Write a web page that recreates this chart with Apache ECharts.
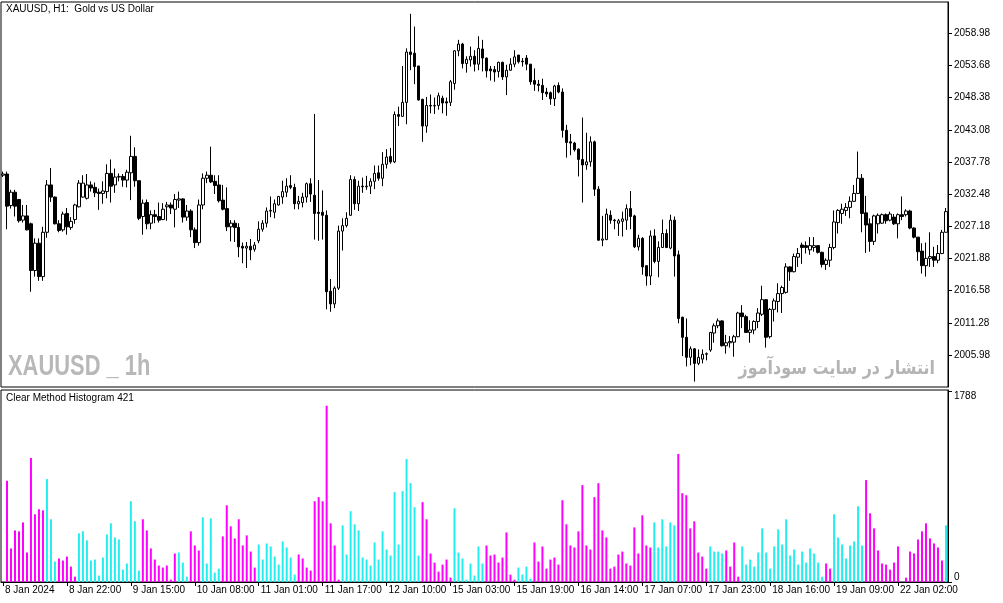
<!DOCTYPE html>
<html>
<head>
<meta charset="utf-8">
<script src="https://cdn.jsdelivr.net/npm/echarts@6/dist/echarts.min.js"></script>
<style>
html, body { margin: 0; padding: 0; background: #fff; }
#chart { width: 1003px; height: 603px; }
</style>
</head>
<body>
<div id="chart"></div>
<script>
// H1 candles, one row per bar: [open, close, low, high]
const candles = [
  [2035.6, 2035.8, 2035.3, 2036.2],
  [2035.8, 2030.5, 2026.7, 2036.2], [2030.6, 2032.8, 2030.1, 2033.2], [2032.8, 2030.5, 2028.8, 2033.2], [2031.6, 2028.1, 2027.8, 2031.7],
  [2028.2, 2028.9, 2027.8, 2030.7], [2028.9, 2026.6, 2026.5, 2030.7], [2027.6, 2019.9, 2016.4, 2027.8], [2019.9, 2024.4, 2018.9, 2025.2],
  [2024.4, 2018.9, 2018.2, 2025.2], [2018.9, 2026.2, 2018.2, 2027.1], [2026.2, 2034.0, 2025.3, 2034.8], [2034.0, 2032.0, 2031.2, 2036.8],
  [2032.0, 2027.6, 2027.5, 2032.1], [2027.6, 2026.5, 2026.2, 2028.2], [2026.6, 2029.2, 2026.3, 2029.6], [2029.3, 2027.1, 2025.8, 2030.2],
  [2027.0, 2028.0, 2026.6, 2028.7], [2028.3, 2030.7, 2027.6, 2030.9], [2030.4, 2034.3, 2030.3, 2034.8], [2032.0, 2034.3, 2031.9, 2035.6],
  [2031.8, 2034.0, 2031.6, 2035.8], [2034.0, 2033.5, 2032.9, 2034.6], [2033.6, 2032.7, 2032.0, 2034.4], [2032.8, 2032.6, 2029.9, 2033.4],
  [2032.6, 2033.0, 2030.9, 2034.6], [2032.9, 2035.9, 2031.8, 2037.4], [2035.9, 2033.8, 2031.1, 2038.2], [2034.0, 2035.3, 2032.7, 2036.7],
  [2035.3, 2035.4, 2034.6, 2035.9], [2035.4, 2034.8, 2033.7, 2035.8], [2034.8, 2036.1, 2033.6, 2036.5], [2036.0, 2038.7, 2031.5, 2042.1],
  [2038.7, 2034.7, 2033.7, 2040.2], [2034.7, 2028.5, 2028.2, 2034.7], [2028.8, 2031.0, 2025.8, 2031.6], [2031.1, 2027.6, 2026.7, 2031.6],
  [2027.7, 2029.1, 2026.7, 2029.8], [2029.1, 2028.8, 2027.7, 2029.9], [2028.8, 2028.2, 2027.8, 2031.1], [2028.3, 2030.0, 2028.2, 2031.0],
  [2030.4, 2030.7, 2028.1, 2031.2], [2030.7, 2030.2, 2029.2, 2031.1], [2030.0, 2031.6, 2027.0, 2032.5], [2031.5, 2031.7, 2030.2, 2032.9],
  [2031.7, 2028.7, 2027.8, 2031.8], [2028.7, 2029.7, 2028.1, 2030.7], [2029.7, 2026.6, 2025.4, 2030.0], [2026.6, 2024.5, 2023.6, 2027.0],
  [2024.5, 2030.7, 2024.0, 2031.6], [2030.7, 2035.1, 2030.0, 2035.9], [2035.1, 2035.6, 2034.3, 2036.2], [2035.6, 2034.5, 2034.3, 2040.3],
  [2034.6, 2033.9, 2032.5, 2035.6], [2034.0, 2031.4, 2031.1, 2035.6], [2031.5, 2030.0, 2029.8, 2034.0], [2030.1, 2027.1, 2026.4, 2033.6],
  [2027.1, 2027.7, 2024.7, 2028.2], [2027.7, 2027.0, 2024.6, 2028.2], [2027.0, 2023.8, 2022.1, 2027.7], [2023.9, 2023.6, 2021.1, 2024.5],
  [2023.6, 2023.9, 2020.3, 2024.6], [2023.9, 2023.3, 2021.6, 2025.1], [2023.4, 2024.1, 2023.0, 2024.6], [2024.8, 2026.7, 2024.4, 2028.0],
  [2026.7, 2027.7, 2026.3, 2028.2], [2027.7, 2029.7, 2027.0, 2030.3], [2029.7, 2029.8, 2028.7, 2032.1], [2029.5, 2030.9, 2028.5, 2031.6],
  [2030.7, 2032.1, 2030.6, 2032.2], [2032.0, 2032.9, 2030.9, 2034.7], [2032.8, 2033.8, 2032.0, 2035.1], [2033.9, 2033.6, 2033.3, 2035.6],
  [2033.6, 2030.9, 2030.0, 2034.2], [2030.9, 2031.3, 2030.0, 2032.2], [2031.1, 2032.0, 2030.3, 2032.7], [2032.0, 2034.2, 2031.1, 2034.4],
  [2034.2, 2032.5, 2031.2, 2035.1], [2032.3, 2029.3, 2025.0, 2045.7], [2029.5, 2029.3, 2024.8, 2034.8], [2029.5, 2029.0, 2025.0, 2033.1],
  [2029.0, 2016.4, 2013.5, 2029.8], [2016.5, 2014.4, 2013.1, 2018.5], [2014.4, 2017.0, 2013.7, 2017.3], [2017.0, 2026.4, 2016.7, 2027.3],
  [2026.4, 2027.3, 2023.2, 2028.5], [2027.3, 2028.5, 2027.0, 2029.5], [2029.0, 2034.9, 2028.9, 2035.6], [2034.9, 2030.9, 2029.9, 2035.4],
  [2030.9, 2033.8, 2029.7, 2034.7], [2033.8, 2033.7, 2032.7, 2035.2], [2033.7, 2033.8, 2033.2, 2035.5], [2033.8, 2034.6, 2032.5, 2035.1],
  [2034.6, 2035.9, 2033.3, 2037.2], [2036.0, 2035.1, 2034.7, 2037.2], [2035.1, 2037.4, 2033.8, 2039.4], [2037.4, 2038.6, 2036.7, 2039.9],
  [2038.7, 2037.8, 2037.5, 2040.1], [2037.8, 2045.6, 2037.6, 2046.1], [2045.6, 2045.3, 2043.7, 2046.9], [2045.3, 2047.6, 2045.2, 2053.6],
  [2047.6, 2055.9, 2044.0, 2056.5], [2055.9, 2055.5, 2052.9, 2062.2], [2055.7, 2053.5, 2050.6, 2060.1], [2053.6, 2048.0, 2047.9, 2053.6],
  [2048.1, 2043.7, 2041.1, 2048.2], [2043.7, 2047.1, 2042.6, 2048.5], [2047.1, 2047.0, 2045.8, 2048.9], [2047.0, 2047.1, 2045.7, 2048.4],
  [2047.1, 2048.7, 2046.4, 2049.2], [2048.3, 2047.5, 2045.8, 2048.7], [2047.7, 2047.5, 2045.4, 2048.4], [2047.6, 2051.0, 2047.0, 2051.3],
  [2050.7, 2056.1, 2049.7, 2056.2], [2056.1, 2057.2, 2055.2, 2057.9], [2057.2, 2054.0, 2053.2, 2057.4], [2054.0, 2054.7, 2052.5, 2055.2],
  [2054.6, 2055.2, 2053.5, 2056.8], [2055.2, 2053.9, 2052.7, 2056.2], [2053.9, 2056.5, 2052.9, 2058.5], [2056.4, 2054.9, 2052.7, 2057.9],
  [2054.9, 2052.8, 2051.7, 2055.0], [2053.1, 2052.8, 2051.2, 2053.6], [2053.0, 2052.6, 2051.0, 2053.6], [2052.7, 2054.2, 2051.7, 2054.3],
  [2054.2, 2051.8, 2051.3, 2054.3], [2051.8, 2052.9, 2048.8, 2053.8], [2052.9, 2053.9, 2052.8, 2054.9], [2053.9, 2055.1, 2053.4, 2056.2],
  [2055.4, 2054.3, 2054.0, 2055.4], [2054.4, 2054.3, 2053.5, 2054.9], [2054.9, 2053.9, 2052.9, 2055.4], [2053.9, 2051.0, 2050.5, 2053.9],
  [2051.2, 2050.6, 2049.5, 2053.2], [2050.6, 2050.4, 2049.4, 2051.3], [2050.4, 2049.2, 2048.0, 2051.5], [2049.3, 2049.0, 2048.5, 2050.0],
  [2049.2, 2048.2, 2047.2, 2049.4], [2048.2, 2050.3, 2047.0, 2050.5], [2050.4, 2049.3, 2049.1, 2050.9], [2049.3, 2043.0, 2041.8, 2049.9],
  [2043.0, 2041.0, 2038.5, 2043.9], [2041.1, 2040.9, 2038.9, 2042.4], [2040.9, 2039.8, 2039.5, 2041.1], [2039.9, 2038.2, 2035.4, 2040.0],
  [2038.2, 2037.3, 2031.1, 2045.1], [2037.3, 2037.8, 2036.5, 2042.6], [2037.8, 2041.1, 2037.0, 2042.0], [2041.1, 2033.3, 2032.2, 2041.3],
  [2033.3, 2024.9, 2024.8, 2033.8], [2024.9, 2025.1, 2023.9, 2028.9], [2025.0, 2029.2, 2024.9, 2030.1], [2029.0, 2028.2, 2027.6, 2029.8],
  [2028.2, 2028.1, 2026.7, 2028.4], [2027.7, 2028.1, 2025.6, 2028.4], [2028.0, 2028.4, 2025.5, 2029.6], [2028.2, 2030.1, 2026.6, 2030.8],
  [2030.1, 2028.8, 2026.7, 2033.0], [2028.9, 2023.8, 2023.6, 2029.1], [2023.8, 2025.2, 2023.2, 2025.8], [2025.2, 2020.5, 2019.2, 2025.4],
  [2020.7, 2019.0, 2017.4, 2020.7], [2019.0, 2025.6, 2017.5, 2026.5], [2025.6, 2021.4, 2021.1, 2026.7], [2021.4, 2023.7, 2018.8, 2024.7],
  [2023.7, 2026.0, 2023.6, 2028.3], [2026.0, 2023.7, 2023.6, 2026.7], [2023.6, 2028.2, 2023.4, 2029.1], [2028.2, 2022.3, 2018.9, 2028.8],
  [2022.5, 2012.0, 2011.2, 2023.2], [2012.2, 2008.9, 2005.8, 2012.3], [2008.9, 2005.6, 2004.1, 2012.0], [2005.6, 2007.0, 2004.3, 2007.4],
  [2007.0, 2004.6, 2001.6, 2007.1], [2004.6, 2005.6, 2004.3, 2006.9], [2005.3, 2006.1, 2004.6, 2006.9], [2006.1, 2006.2, 2005.1, 2006.4],
  [2006.8, 2009.7, 2006.5, 2009.8], [2009.6, 2010.8, 2008.0, 2011.2], [2010.8, 2011.6, 2010.4, 2012.0], [2011.6, 2007.5, 2007.4, 2011.7],
  [2007.5, 2008.0, 2006.2, 2009.3], [2008.0, 2008.2, 2007.2, 2009.1], [2008.1, 2009.0, 2005.7, 2009.3], [2009.0, 2012.9, 2008.9, 2013.1],
  [2012.9, 2012.3, 2010.4, 2014.2], [2012.3, 2009.7, 2009.6, 2012.6], [2009.7, 2010.1, 2008.0, 2011.7], [2010.1, 2011.5, 2009.4, 2011.7],
  [2011.5, 2012.9, 2010.4, 2013.7], [2012.7, 2015.1, 2012.4, 2017.4], [2015.1, 2008.9, 2007.2, 2015.2], [2009.0, 2013.5, 2008.7, 2013.7],
  [2013.5, 2014.9, 2011.5, 2015.3], [2014.8, 2016.1, 2013.0, 2017.8], [2016.1, 2017.1, 2012.9, 2017.4], [2016.3, 2020.5, 2016.1, 2021.1],
  [2020.5, 2019.7, 2018.2, 2020.6], [2019.7, 2022.2, 2019.6, 2022.7], [2022.1, 2022.7, 2020.5, 2023.6], [2024.1, 2023.7, 2021.0, 2024.5],
  [2024.0, 2023.7, 2022.7, 2024.7], [2023.3, 2024.0, 2022.5, 2025.4], [2023.7, 2024.0, 2023.0, 2025.4], [2024.0, 2022.9, 2022.7, 2024.1],
  [2022.9, 2020.9, 2020.4, 2023.0], [2020.9, 2021.6, 2020.0, 2021.9], [2021.6, 2023.7, 2020.5, 2024.3], [2023.7, 2027.9, 2023.4, 2029.8],
  [2027.8, 2029.8, 2026.0, 2030.0], [2029.3, 2030.0, 2027.6, 2030.9], [2029.8, 2030.3, 2028.9, 2031.0], [2030.3, 2031.3, 2028.5, 2032.1],
  [2031.3, 2032.6, 2031.2, 2034.0], [2032.6, 2035.1, 2032.5, 2039.5], [2035.1, 2029.3, 2026.2, 2035.8], [2029.4, 2027.4, 2022.8, 2032.2],
  [2027.6, 2024.7, 2023.0, 2028.5], [2024.7, 2028.9, 2024.1, 2029.1], [2027.6, 2029.0, 2026.0, 2029.3], [2027.7, 2029.1, 2027.6, 2029.3],
  [2029.1, 2028.1, 2027.6, 2029.3], [2028.2, 2029.2, 2028.0, 2029.6], [2028.7, 2027.6, 2027.4, 2029.2], [2027.6, 2029.1, 2025.2, 2029.3],
  [2029.1, 2028.8, 2028.2, 2032.1], [2029.1, 2029.7, 2028.8, 2030.0], [2029.7, 2026.9, 2026.7, 2029.9], [2026.9, 2025.4, 2025.2, 2027.0],
  [2025.4, 2023.0, 2021.5, 2025.4], [2023.1, 2020.7, 2019.4, 2024.4], [2020.7, 2021.9, 2018.9, 2024.5], [2021.9, 2022.2, 2020.5, 2026.2],
  [2022.2, 2021.6, 2020.5, 2023.8], [2021.6, 2022.7, 2021.1, 2024.1], [2022.7, 2026.2, 2022.6, 2026.6], [2026.2, 2029.6, 2026.2, 2030.2]
]

// Clear Method Histogram values (first bar is hidden under the frame)
const histValues = [
  null,
  947, 314, 483, 474, 558, 276, 1161, 634, 681, 671,
  963, 587, 191, 220, 201, 238, 144, 50, 455, 474,
  389, 201, 210, 60, 229, 445, 549, 417, 398, 116,
  173, 756, 568, 107, 587, 483, 314, 210, 154, 135,
  154, 22, 267, 276, 182, 50, 474, 342, 295, 605,
  173, 596, 88, 125, 427, 718, 521, 408, 587, 342,
  436, 285, 135, 351, 210, 361, 333, 238, 163, 380,
  323, 229, 69, 257, 220, 135, 107, 756, 794, 756,
  1650, 549, 342, 22, 530, 257, 662, 540, 483, 229,
  210, 154, 370, 210, 474, 304, 248, 841, 351, 850,
  1151, 925, 700, 248, 747, 587, 267, 182, 97, 163,
  210, 41, 690, 276, 220, 22, 173, 60, 333, 173,
  342, 248, 257, 182, 229, 464, 69, 22, 135, 69,
  144, 31, 370, 191, 333, 125, 210, 229, 163, 765,
  540, 342, 323, 474, 907, 342, 304, 794, 925, 483,
  417, 125, 144, 257, 285, 173, 154, 511, 267, 624,
  342, 323, 558, 323, 587, 333, 558, 530, 1198, 831,
  812, 502, 568, 276, 238, 125, 333, 285, 285, 267,
  295, 144, 370, 50, 333, 163, 210, 144, 276, 502,
  276, 125, 333, 493, 351, 587, 248, 304, 163, 285,
  182, 314, 267, 182, 50, 173, 125, 634, 417, 351,
  220, 342, 380, 709, 342, 954, 643, 502, 295, 173,
  163, 116, 182, 333, 0, 41, 285, 267, 398, 474,
  549, 408, 361, 323, 201, 530
]

// histogram colour per bar: m = magenta, c = cyan
const histSide = ['m',
  'mmmmmmmmmm', 'ccc', 'mmmmm', 'cccccccccccccccc', 'mmmmmmmmm', 'ccc', 'mmm', 'ccccc',
  'mmmmmmmmm', 'cccccccccc', 'mmmmmmmmmmm', 'cccccccccccccccccccc', 'mmmmmmmm', 'cccccccc',
  'mmmmmmmm', 'cccc', 'mmmmmmmmmmmmmmmmmmmmmmmmmmmmmm', 'cccccc', 'mmmmmmmm', 'cccc', 'mmmm',
  'ccccccccccccccccccccc', 'mm', 'cccccccc', 'mmmmmmmmmmmmmmmmmmmm', 'c'
].join('')

const priceTicks = [2058.98, 2053.68, 2048.38, 2043.08, 2037.78, 2032.48, 2027.18, 2021.88, 2016.58, 2011.28, 2005.98]
const histTicks = [0, 1788]
const timeLabels = ['8 Jan 2024', '8 Jan 22:00', '9 Jan 15:00', '10 Jan 08:00', '11 Jan 01:00', '11 Jan 17:00',
  '12 Jan 10:00', '15 Jan 03:00', '15 Jan 19:00', '16 Jan 14:00', '17 Jan 07:00', '17 Jan 23:00',
  '18 Jan 16:00', '19 Jan 09:00', '22 Jan 02:00']

const barIndex = candles.map((_, i) => i)
const colors = { m: '#ff00ff', c: '#22eef0' }
const font = 'Liberation Sans'

let myChart = echarts.init(document.getElementById('chart'))

let option = {
  animation: false,
  backgroundColor: '#fff',
  grid: [
    { left: 1, right: 55, top: 2, height: 385, show: true, borderColor: '#000', borderWidth: 1 },
    { left: 1, right: 55, top: 390, height: 192, show: true, borderColor: '#000', borderWidth: 1 }
  ],
  xAxis: [
    {
      type: 'category', gridIndex: 0, data: barIndex, boundaryGap: true,
      axisLine: { show: false }, axisTick: { show: false }, axisLabel: { show: false }
    },
    {
      type: 'category', gridIndex: 1, data: barIndex, boundaryGap: true,
      axisLine: { show: true, lineStyle: { color: '#000' } },
      axisTick: { show: true, interval: 15, alignWithLabel: true, length: 4, lineStyle: { color: '#000' } },
      axisLabel: {
        interval: 15, align: 'left', margin: 3, padding: [0, 0, 0, 2],
        fontFamily: font, fontSize: 10, color: '#000',
        formatter: (v, i) => timeLabels[i / 16] || ''
      }
    }
  ],
  yAxis: [
    {
      type: 'value', gridIndex: 0, position: 'right', min: 2000.71, max: 2064.14,
      splitLine: { show: false },
      axisLine: { show: true, lineStyle: { color: '#000' } },
      axisTick: { show: true, length: 4, customValues: priceTicks, lineStyle: { color: '#000' } },
      axisLabel: {
        customValues: priceTicks, margin: 6, fontFamily: font, fontSize: 10, color: '#000',
        formatter: v => v.toFixed(2)
      }
    },
    {
      type: 'value', gridIndex: 1, position: 'right', min: 0, max: 1797,
      splitLine: { show: false },
      axisLine: { show: true, lineStyle: { color: '#000' } },
      axisTick: { show: true, length: 4, customValues: histTicks, lineStyle: { color: '#000' } },
      axisLabel: {
        customValues: histTicks, margin: 6, fontFamily: font, fontSize: 10, color: '#000',
        verticalAlignMinLabel: 'bottom', verticalAlignMaxLabel: 'top',
        formatter: v => String(v)
      }
    }
  ],
  graphic: [
    { type: 'text', x: 6, y: 4, style: { text: 'XAUUSD, H1:  Gold vs US Dollar', font: '10px "Liberation Sans"', fill: '#000' } },
    { type: 'text', x: 6, y: 393, style: { text: 'Clear Method Histogram 421', font: '10px "Liberation Sans"', fill: '#000' } },
    {
      type: 'text', x: 8, y: 352, scaleX: 0.73,
      style: { text: 'XAUUSD _ 1h', font: 'bold 30px "Liberation Sans"', fill: '#b8b8b8' }
    },
    {
      type: 'text', x: 935, y: 369, scaleX: 0.84,
      style: { text: 'انتشار در سایت سودآموز', font: 'bold 19px "DejaVu Sans"', fill: '#b4b4b4', align: 'right', verticalAlign: 'middle' }
    }
  ],
  series: [
    {
      type: 'candlestick', xAxisIndex: 0, yAxisIndex: 0, data: candles, barWidth: 3,
      itemStyle: { color: '#fff', color0: '#000', borderColor: '#000', borderColor0: '#000', borderWidth: 1 }
    },
    {
      type: 'bar', xAxisIndex: 1, yAxisIndex: 1, barWidth: 2,
      data: histValues.map((v, i) => ({ value: v, itemStyle: { color: colors[histSide[i]] } }))
    }
  ]
}
myChart.setOption(option)
</script>
</body>
</html>
